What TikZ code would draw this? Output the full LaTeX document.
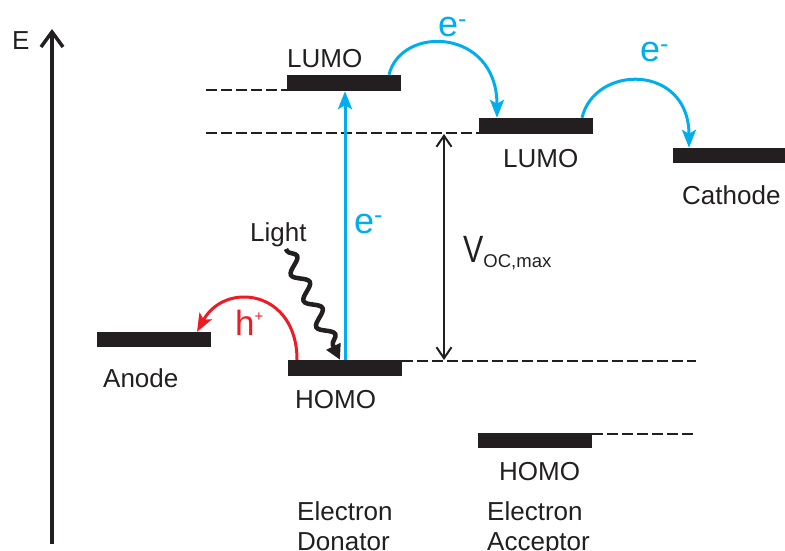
\documentclass[tikz,border=0pt]{standalone}
\usepackage{fontspec}
\setmainfont{Liberation Sans}
\usetikzlibrary{arrows.meta,decorations.pathmorphing}
\definecolor{solink}{HTML}{231F20}
\definecolor{solblue}{HTML}{00AEEF}
\definecolor{solred}{HTML}{ED1C24}
\tikzset{
  lvl/.style={fill=solink, inner sep=0pt, minimum width=114pt, minimum height=16pt},
  lbl/.style={font=\fontsize{26}{30}\selectfont, text=solink, inner sep=0pt, anchor=base west},
  chg/.style={font=\fontsize{36}{40}\selectfont, inner sep=0pt, anchor=base west},
  guide/.style={solink, line width=2pt, dash pattern=on 11pt off 4pt},
  hop/.style={line width=3pt, -{Stealth[length=18pt,width=14pt,inset=4pt]}},
}

\begin{document}
\begin{tikzpicture}[x=1pt,y=-1pt]
  \useasboundingbox (0,0) rectangle (785,551);
  % energy axis
  \coordinate (eb) at (52,544);
  \coordinate (et) at (52,29);
  \draw[solink, line width=3.5pt, -{Straight Barb[length=15pt,width=22pt]}] (eb) -- (et);
  \node[lbl] (elbl) at (12,50) {E};

  % levels
  \node[lvl] (dlumo) at (344,83) {};
  \node[lvl] (alumo) at (536,126) {};
  \node[lvl, minimum width=112pt, minimum height=15pt] (cath) at (729,155.5) {};
  \node[lvl] (dhomo) at (345,368) {};
  \node[lvl, minimum height=15pt] (anode) at (154,339.5) {};
  \node[lvl, minimum height=15pt] (ahomo) at (535,440.5) {};

  % dashed guides
  \coordinate (g1) at (206,90);
  \coordinate (g2) at (206,133);
  \coordinate (g3) at (696,361);
  \coordinate (g4) at (696,434);
  \draw[guide] (g1) -- (g1 -| dlumo.west);
  \draw[guide] (g2) -- (g2 -| alumo.west);
  \draw[guide] (g3 -| dhomo.east) -- (g3);
  \draw[guide] (g4 -| ahomo.east) -- (g4);

  % open circuit voltage
  \coordinate (vt) at (444,134);
  \coordinate (vb) at (444,360);
  \draw[solink, line width=2pt, {Straight Barb[length=11pt,width=15pt]}-{Straight Barb[length=11pt,width=15pt]}] (vt) -- (vb);
  \node[lbl] (voc) at (463,262) {\fontsize{38}{40}\selectfont\scalebox{0.8}[1]{V}\raisebox{-5pt}{\fontsize{18.5}{20}\selectfont OC,max}};

  % electron transfer
  \draw[hop, solblue] (dhomo.north) -- (dhomo.north |- dlumo.south);
  \draw[hop, solblue] ([xshift=45pt]dlumo.north) .. controls +(12,-50) and +(0,-90) .. ([xshift=-39pt]alumo.north);
  \draw[hop, solblue] ([xshift=46pt]alumo.north) .. controls +(13,-54) and +(0,-84) .. ([xshift=-40pt]cath.north);
  \node[chg, solblue] (e1) at (438,37) {e\textsuperscript{-}};
  \node[chg, solblue] (e2) at (640,62) {e\textsuperscript{-}};
  \node[chg, solblue] (e3) at (354,233) {e\textsuperscript{-}};

  % hole transfer
  \draw[hop, solred] ([xshift=-48pt]dhomo.north) .. controls +(0,-70) and +(28,-51) .. ([xshift=43pt]anode.north);
  \node[chg, solred, font=\fontsize{35}{40}\selectfont] (hl) at (235,335) {h\raisebox{14pt}{\fontsize{15}{15}\selectfont +}};

  % light
  \coordinate (ls) at (286,249);
  \draw[solink, line width=4.5pt, -{Triangle[length=15pt,width=15pt]}, decorate,
    decoration={snake, amplitude=7pt, segment length=29pt, pre length=2pt, post length=14pt}]
    (ls) -- ([xshift=-5pt]dhomo.north);
  \node[lbl] (lightl) at (250,241) {Light};

  % labels
  \node[lbl] (lumod) at (287,67) {LUMO};
  \node[lbl] (lumoa) at (503,167) {LUMO};
  \node[lbl] (cathl) at (682,204) {Cathode};
  \node[lbl] (anodel) at (103,387) {Anode};
  \node[lbl] (homod) at (295,408) {HOMO};
  \node[lbl] (homoa) at (499,480) {HOMO};
  \node[lbl, align=left] (donl) at (297,550) {Electron\\Donator};
  \node[lbl, align=left] (accl) at (487,550) {Electron\\Acceptor};
\end{tikzpicture}
\end{document}
